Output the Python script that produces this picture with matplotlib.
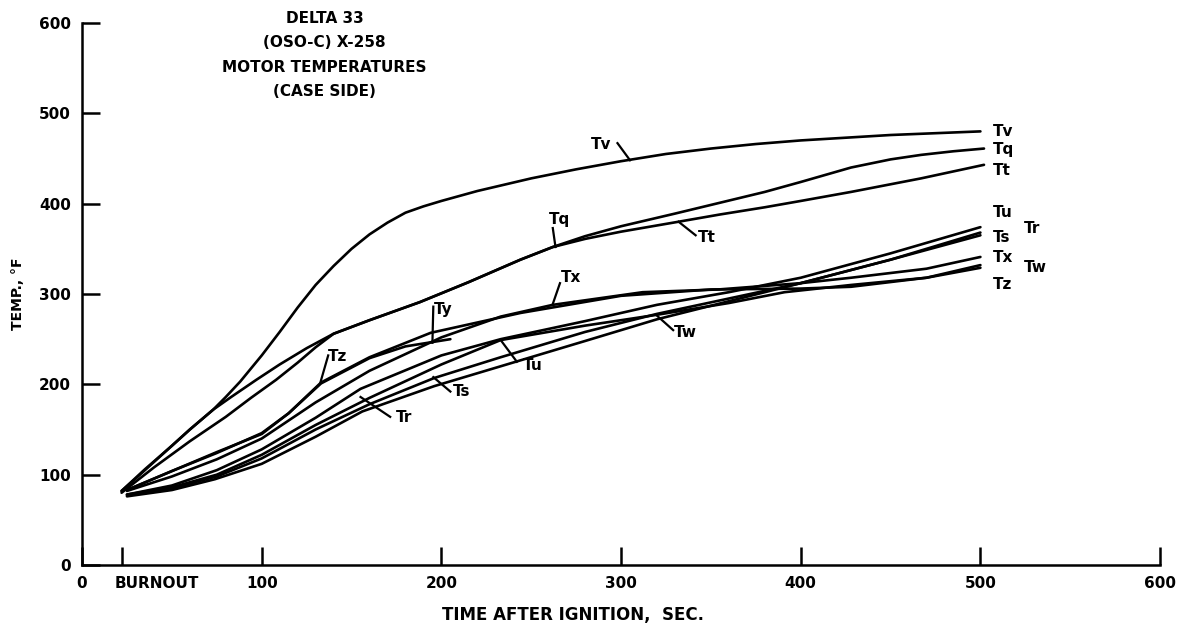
import matplotlib.pyplot as plt

# curve data (time after ignition, sec / temperature, deg F)
tv_t = [22, 30, 40, 50, 60, 73, 80, 88, 100, 110, 120, 130, 140, 150, 160, 170, 180, 190, 200,
        220, 250, 275, 300, 325, 350, 375, 400, 450, 500]
tv_y = [82, 96, 114, 132, 150, 172, 186, 203, 232, 258, 285, 310, 331, 350, 366, 379, 390, 397, 403,
        414, 428, 438, 447, 455, 461, 466, 470, 476, 480]

tq_t = [22, 35, 50, 60, 73, 83, 97, 110, 125, 140, 160, 188, 215, 244, 262, 280, 300, 330, 355,
        380, 400, 428, 450, 467, 485, 502]
tq_y = [82, 106, 132, 150, 172, 186, 205, 222, 240, 256, 271, 291, 313, 338, 352, 364, 375, 389, 401,
        413, 424, 440, 449, 454, 458, 461]

tt_t = [22, 40, 60, 80, 94, 108, 120, 130, 140, 160, 188, 215, 244, 262, 280, 300, 332, 355, 380,
        400, 428, 467, 502]
tt_y = [80, 108, 137, 164, 185, 205, 224, 241, 256, 271, 291, 313, 338, 352, 361, 369, 380, 388, 396,
        403, 413, 428, 443]

tz_t = [25, 50, 75, 100, 115, 133, 160, 194, 244, 300, 350, 400, 428, 470, 500]
tz_y = [83, 104, 125, 145, 168, 202, 230, 257, 279, 298, 305, 306, 308, 318, 329]

ty_t = [25, 50, 75, 100, 115, 133, 160, 180, 205]
ty_y = [83, 104, 124, 146, 168, 201, 229, 242, 250]

tx_t = [25, 50, 75, 100, 130, 160, 200, 233, 262, 312, 354, 400, 428, 470, 500]
tx_y = [82, 98, 117, 140, 180, 215, 252, 275, 288, 302, 305, 312, 318, 328, 341]

tu_t = [25, 50, 75, 100, 130, 155, 200, 233, 280, 320, 360, 400, 450, 500]
tu_y = [78, 88, 105, 128, 163, 195, 232, 250, 270, 288, 302, 318, 345, 374]

tw_t = [25, 50, 75, 100, 130, 160, 200, 233, 280, 320, 360, 391, 428, 470, 500]
tw_y = [78, 86, 100, 122, 155, 185, 222, 249, 265, 277, 290, 302, 310, 318, 332]

ts_t = [25, 50, 75, 100, 130, 160, 196, 233, 280, 320, 360, 400, 450, 500]
ts_y = [77, 85, 98, 118, 150, 178, 207, 230, 258, 278, 295, 312, 338, 365]

tr_t = [25, 50, 74, 100, 130, 156, 196, 233, 280, 320, 360, 400, 450, 500]
tr_y = [76, 83, 95, 112, 142, 170, 198, 220, 248, 272, 292, 312, 338, 368]

curves = [(tv_t, tv_y), (tq_t, tq_y), (tt_t, tt_y), (tz_t, tz_y), (ty_t, ty_y),
          (tx_t, tx_y), (tu_t, tu_y), (tw_t, tw_y), (ts_t, ts_y), (tr_t, tr_y)]

# labels at the right-hand end of the curves
end_names = ["Tv", "Tq", "Tt", "Tu", "Ts", "Tx", "Tz", "Tr", "Tw"]
end_x = [507, 507, 507, 507, 507, 507, 507, 524, 524]
end_y = [480, 460, 437, 390, 363, 340, 310, 373, 329]

# labels with leader lines: name, label pos, leader start, leader end (on curve)
lead_names = ["Tv", "Tq", "Tt", "Tx", "Tw", "Tu", "Ts", "Tr", "Tz", "Ty"]
lead_lab = [(289, 465), (266, 383), (348, 362), (272, 318), (336, 257),
            (251, 221), (211, 192), (179, 163), (142, 231), (201, 283)]
lead_a = [(298, 467), (262, 373), (332, 380), (266, 312), (320, 276),
          (233, 249), (195.5, 208), (155, 186), (137, 232), (195.5, 286)]
lead_b = [(305, 448), (263.5, 352), (341.5, 365), (262, 289), (329, 260),
          (242, 225), (205, 192), (171.5, 164), (132.5, 201), (195, 246)]

title_lines = ["DELTA 33", "(OSO-C) X-258", "MOTOR TEMPERATURES", "(CASE SIDE)"]

plt.rcParams['font.family'] = 'DejaVu Sans'
fig = plt.figure(figsize=(11.84, 6.28), dpi=100)
ax = fig.add_axes([0.0693, 0.1003, 0.9105, 0.8631])

for t, y in curves:
    ax.plot(t, y, color="black", lw=1.9, solid_capstyle="round", solid_joinstyle="round")

fs = 11
for n, x, y in zip(end_names, end_x, end_y):
    ax.text(x, y, n, fontsize=fs, fontweight="bold", ha="left", va="center")

for n, lab, a, b in zip(lead_names, lead_lab, lead_a, lead_b):
    ax.plot([a[0], b[0]], [a[1], b[1]], color="black", lw=1.6)
    ax.text(lab[0], lab[1], n, fontsize=fs, fontweight="bold", ha="center", va="center")

for i, line in enumerate(title_lines):
    ax.text(135, 605 - i * 27, line, fontsize=fs, fontweight="bold", ha="center", va="center")

ax.set_xlim(0, 600)
ax.set_ylim(0, 600)
ax.set_xticks([0, 22, 100, 200, 300, 400, 500, 600])
ax.set_xticklabels(["0", "", "100", "200", "300", "400", "500", "600"])
ax.set_yticks([0, 100, 200, 300, 400, 500, 600])
ax.tick_params(direction="in", length=13, width=1.8, labelsize=fs, pad=8)
for lab in ax.get_xticklabels() + ax.get_yticklabels():
    lab.set_fontweight("bold")
ax.annotate("BURNOUT", xy=(22, 0), xycoords=("data", "axes fraction"), xytext=(-7, -11),
            textcoords="offset pixels", fontsize=fs, fontweight="bold", ha="left", va="top")

ax.spines["top"].set_visible(False)
ax.spines["right"].set_visible(False)
ax.spines["left"].set_linewidth(1.8)
ax.spines["bottom"].set_linewidth(1.8)

ax.set_xlabel("TIME AFTER IGNITION,  SEC.", fontsize=12, fontweight="bold")
ax.xaxis.set_label_coords(0.455, -0.075)
ax.set_ylabel("TEMP., °F", fontsize=fs - 1, fontweight="bold")
ax.yaxis.set_label_coords(-0.053, 0.5)

fig.savefig("out.png", dpi=100)
